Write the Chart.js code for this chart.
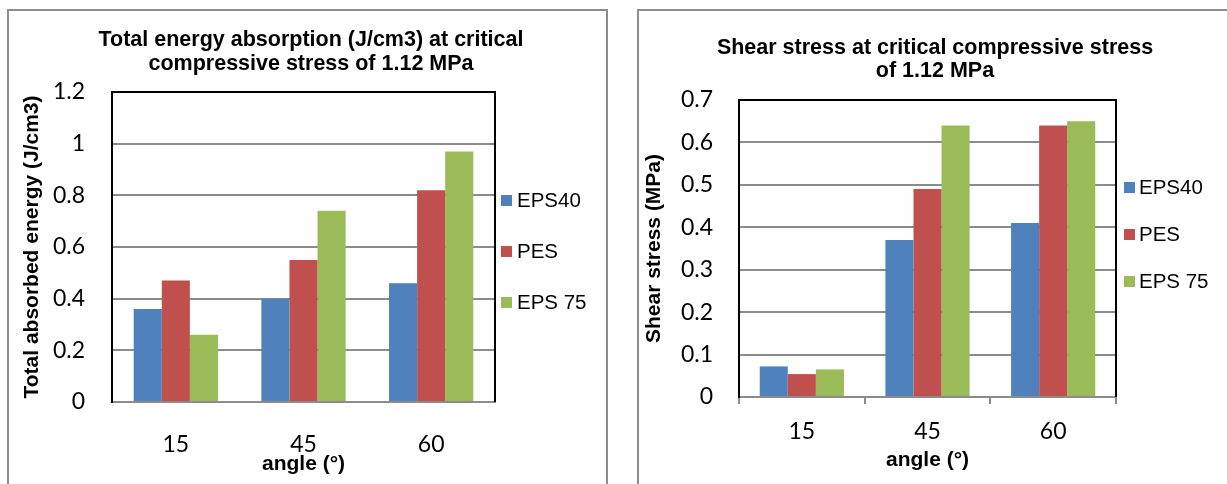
<!DOCTYPE html>
<html>
<head>
<meta charset="utf-8">
<script src="https://cdn.jsdelivr.net/npm/chart.js@4.4.1/dist/chart.umd.min.js"></script>
<style>
body { margin: 0; width: 1227px; height: 484px; overflow: hidden; background: #fff; position: relative; }
.box { position: absolute; border: 2px solid #8c8c8c; box-sizing: border-box; }
canvas { position: absolute; top: 0; }
</style>
</head>
<body>
<div class="box" style="left:7px;top:9px;width:601px;height:500px"></div>
<div class="box" style="left:637px;top:9px;width:620px;height:500px"></div>
<canvas id="energyChart" style="left:0" width="620" height="484"></canvas>
<canvas id="shearChart" style="left:620px" width="607" height="484"></canvas>
<script>
const angles = ['15', '45', '60'];
const seriesNames = ['EPS40', 'PES', 'EPS 75'];
const seriesColors = ['#4F81BD', '#C0504D', '#9BBB59'];

// total absorbed energy (J/cm3)
const energyEPS40 = [0.36, 0.40, 0.46];
const energyPES = [0.47, 0.55, 0.82];
const energyEPS75 = [0.26, 0.74, 0.97];
const energyTicks = ['0', '0.2', '0.4', '0.6', '0.8', '1', '1.2'];

// shear stress (MPa)
const shearEPS40 = [0.072, 0.37, 0.41];
const shearPES = [0.054, 0.49, 0.64];
const shearEPS75 = [0.065, 0.64, 0.65];
const shearTicks = ['0', '0.1', '0.2', '0.3', '0.4', '0.5', '0.6', '0.7'];

const boldFont = '"Liberation Sans", Arial, sans-serif';
Chart.defaults.font.family = 'Lato, "Open Sans", sans-serif';
Chart.defaults.color = '#000';

// title, plot frame (top/right) and the legend on the right
const extras = {
    id: 'extras',
    afterDraw(chart, args, opts) {
        const { ctx, chartArea: a } = chart;
        ctx.save();
        ctx.strokeStyle = '#000';
        ctx.lineWidth = 2;
        ctx.beginPath();
        ctx.moveTo(a.left, a.top);
        ctx.lineTo(a.right, a.top);
        ctx.lineTo(a.right, a.bottom);
        ctx.stroke();

        ctx.fillStyle = '#000';
        ctx.font = 'bold 21.5px ' + boldFont;
        ctx.textAlign = 'center';
        ctx.textBaseline = 'middle';
        opts.title.forEach((line, i) => ctx.fillText(line, opts.titleX, opts.titleY + i * opts.titleGap));

        ctx.font = '20.5px ' + boldFont;
        ctx.textAlign = 'left';
        chart.data.datasets.forEach((ds, i) => {
            const y = opts.legendY + i * opts.legendGap;
            ctx.fillStyle = ds.backgroundColor;
            ctx.fillRect(a.right + opts.boxOffset, y - 5, 11, 11);
            ctx.fillStyle = '#000';
            ctx.fillText(ds.label, a.right + opts.textOffset, y + 1);
        });
        ctx.restore();
    }
};

function makeChart(id, series, ticks, max, step, yTitle, lay) {
    const ctx = document.getElementById(id).getContext('2d');
    return new Chart(ctx, {
        type: 'bar',
        data: {
            labels: angles,
            datasets: series.map((values, i) => ({
                label: seriesNames[i],
                data: values,
                backgroundColor: seriesColors[i],
                borderWidth: 0,
                categoryPercentage: lay.catPct,
                barPercentage: 1
            }))
        },
        options: {
            responsive: false,
            animation: false,
            events: [],
            layout: { padding: { left: lay.padLeft, right: lay.padRight, top: lay.padTop, bottom: lay.padBottom } },
            plugins: {
                legend: { display: false },
                tooltip: { enabled: false },
                extras: lay.extras
            },
            scales: {
                x: {
                    grid: lay.xTicks
                        ? { drawOnChartArea: false, drawTicks: true, tickLength: lay.xTicks, color: '#8c8c8c', lineWidth: 2 }
                        : { display: false },
                    border: { color: '#8c8c8c', width: 2 },
                    ticks: { font: { size: 23 }, padding: lay.xTickPad, maxRotation: 0 },
                    title: { display: true, text: 'angle (°)', font: { family: boldFont, size: 21, weight: 'bold' }, padding: 0 },
                    afterFit: scale => { scale.height = lay.xHeight; }
                },
                y: {
                    min: 0,
                    max: max,
                    ticks: { stepSize: step, font: { size: 23 }, padding: lay.yTickPad, callback: (v, i) => ticks[i] },
                    grid: { color: '#8c8c8c', lineWidth: 2, drawTicks: false },
                    border: { color: '#000', width: 2 },
                    title: { display: true, text: yTitle, font: { family: boldFont, size: 21, weight: 'bold' }, padding: { top: lay.yTitlePad, bottom: 0 } },
                    afterFit: scale => { scale.width = lay.yWidth; }
                }
            }
        },
        plugins: [extras]
    });
}

makeChart('energyChart', [energyEPS40, energyPES, energyEPS75], energyTicks, 1.2, 0.2,
    'Total absorbed energy (J/cm3)', {
        catPct: 0.66, padLeft: 8, padRight: 125, padTop: 92, padBottom: 7,
        yWidth: 104, yTitlePad: 12, yTickPad: 27,
        xHeight: 75, xTicks: 0, xTickPad: 21,
        extras: {
            title: ['Total energy absorption (J/cm3) at critical', 'compressive stress of 1.12 MPa'],
            titleX: 311, titleY: 40, titleGap: 24.5,
            legendY: 200, legendGap: 51, boxOffset: 6, textOffset: 22
        }
    });

makeChart('shearChart', [shearEPS40, shearPES, shearEPS75], shearTicks, 0.7, 0.1,
    'Shear stress (MPa)', {
        catPct: 0.67, padLeft: 17, padRight: 111, padTop: 100, padBottom: 11,
        yWidth: 102, yTitlePad: 5, yTickPad: 26,
        xHeight: 76, xTicks: 7, xTickPad: 14,
        extras: {
            title: ['Shear stress at critical compressive stress', 'of 1.12 MPa'],
            titleX: 315, titleY: 48, titleGap: 23.5,
            legendY: 187, legendGap: 47, boxOffset: 8, textOffset: 23
        }
    });
</script>
</body>
</html>
